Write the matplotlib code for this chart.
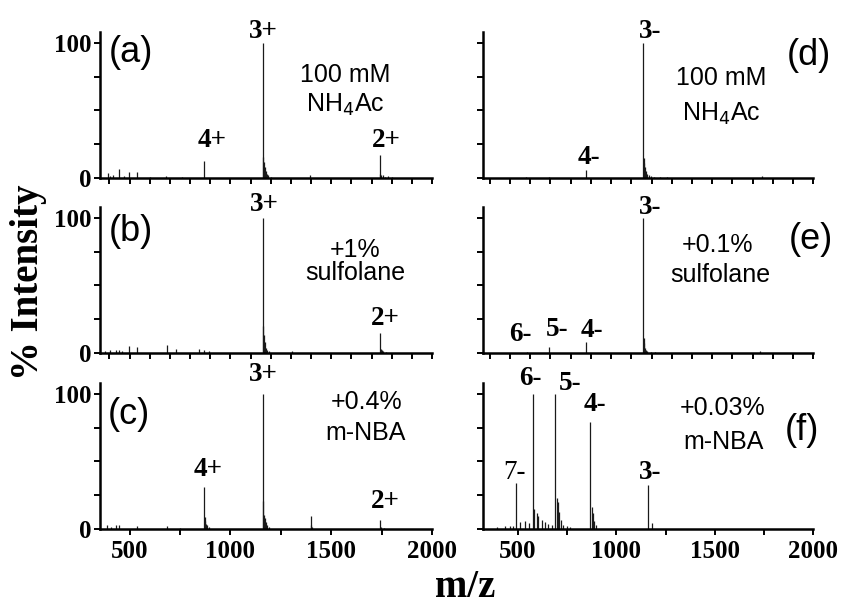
import matplotlib
matplotlib.use("Agg")
import matplotlib.pyplot as plt

SERIF = "Liberation Serif"
SANS = "Liberation Sans"

# ── stick spectra: m/z and % intensity ──────────────────────────────────────
A_MZ = [392, 405, 418, 446, 470, 496, 537, 600, 680, 760, 871, 1161, 1163,
        1166, 1170, 1175, 1180, 1188, 1200, 1395, 1741, 1744, 1748, 1755,
        1765, 1780, 1800]
A_INT = [3.7, 1.5, 2.2, 6.7, 1.5, 4.2, 4.7, 1.0, 1.2, 0.8, 12.8, 100, 15.8,
         12, 8, 5, 3, 2, 1, 2.5, 17, 3, 2.5, 2, 1, 1.2, 1]

B_MZ = [380, 405, 430, 446, 463, 496, 537, 686, 730, 846, 870, 895, 1161,
        1163, 1166, 1170, 1175, 1182, 1192, 1305, 1741, 1745, 1750, 1758, 1770]
B_INT = [1.7, 2, 2, 2, 1.8, 5.2, 4.2, 5.9, 2.7, 2.7, 2.2, 1.3, 100, 20, 13.4,
         8, 4, 2.5, 1.5, 1.7, 14.6, 3, 2.5, 1.5, 1]

C_MZ = [389, 410, 430, 446, 537, 686, 752, 871, 873, 876, 880, 885, 892,
        1161, 1163, 1166, 1170, 1175, 1180, 1190, 1399, 1402, 1406, 1742,
        1746, 1760]
C_INT = [3, 1.5, 3, 3, 2.5, 2, 1, 30.8, 9, 6, 4, 3, 1.5, 100, 21, 10.4, 8, 5,
         3, 1.5, 9.6, 3, 1.5, 6.7, 1.5, 1]

D_MZ = [580, 695, 875, 1160, 1162, 1165, 1168, 1172, 1178, 1185, 1195, 1210,
        1240, 1276, 1746]
D_INT = [0.5, 0.5, 5.6, 100, 14.7, 11, 8, 5, 3, 2, 1.5, 1, 0.6, 0.5, 1.7]

E_MZ = [583, 695, 875, 1160, 1162, 1165, 1169, 1174, 1180, 1195, 1218, 1738]
E_INT = [1.0, 4.4, 8.1, 100, 11, 7.4, 4, 2.5, 1.5, 1, 0.6, 1.5]

F_MZ = [392, 434, 459, 476, 491, 510, 536, 557, 575, 581, 595, 603, 620, 637,
        654, 671, 688, 696, 701, 710, 717, 730, 747, 764, 867, 874, 879, 886,
        896, 1158, 1179]
F_INT = [1.5, 2, 2.5, 2.5, 33.8, 5.4, 6, 4.4, 100, 14.8, 11.8, 9.9, 7, 4.9, 4,
         3.2, 100, 22.7, 20, 12.8, 6.7, 3, 2, 1.5, 79.5, 16, 11.8, 5.7, 3.2,
         32.6, 4.7]

# charge-state labels and where they sit (m/z, % intensity)
A_LAB = ["3+", "4+", "2+"]
A_LAB_XY = [(1165, 108.5), (908, 28), (1775, 28)]
B_LAB = ["3+", "2+"]
B_LAB_XY = [(1168, 109.6), (1767, 25.7)]
C_LAB = ["3+", "4+", "2+"]
C_LAB_XY = [(1165, 114), (890, 43.7), (1767, 20)]
D_LAB = ["3-", "4-"]
D_LAB_XY = [(1193, 108.6), (891, 15.3)]
E_LAB = ["3-", "6-", "5-", "4-"]
E_LAB_XY = [(1193, 108), (550, 13.5), (731, 17.6), (904, 16.5)]
F_LAB = ["7-", "6-", "5-", "4-", "3-"]
F_LAB_XY = [(482, 41.5), (561, 111), (764, 108), (891, 92), (1170, 42)]

# panel letter and solution condition (axes fractions)
LETTERS = ["(a)", "(b)", "(c)", "(d)", "(e)", "(f)"]
LETTER_XY = [(0.093, 0.863), (0.093, 0.831), (0.087, 0.781),
             (0.987, 0.842), (0.992, 0.774), (0.965, 0.678)]
COND = [("100 mM", "NH$_4$Ac"), ("+1%", "sulfolane"), ("+0.4%", "m-NBA"),
        ("100 mM", "NH$_4$Ac"), ("+0.1%", "sulfolane"), ("+0.03%", "m-NBA")]
COND_XY = [((0.738, 0.705), (0.738, 0.50)), ((0.768, 0.705), (0.768, 0.546)),
           ((0.803, 0.872), (0.801, 0.655)), ((0.722, 0.685), (0.722, 0.44)),
           ((0.71, 0.74), (0.717, 0.534)), ((0.726, 0.829), (0.729, 0.596))]

SPECTRA = [(A_MZ, A_INT), (B_MZ, B_INT), (C_MZ, C_INT),
           (D_MZ, D_INT), (E_MZ, E_INT), (F_MZ, F_INT)]
LABELS = [(A_LAB, A_LAB_XY), (B_LAB, B_LAB_XY), (C_LAB, C_LAB_XY),
          (D_LAB, D_LAB_XY), (E_LAB, E_LAB_XY), (F_LAB, F_LAB_XY)]
XMIN = [353, 353, 353, 368, 368, 324]

# ── layout ───────────────────────────────────────────────────────────────────
W, H = 843, 605
fig = plt.figure(figsize=(W / 100, H / 100), dpi=100, facecolor="white")
col_x = [(100, 332), (483.3, 330)]
row_bottom = [178, 353, 529]

for i in range(6):
    col, row = divmod(i, 3)
    x0, w = col_x[col]
    ax = fig.add_axes([x0 / W, 1 - row_bottom[row] / H, w / W, 146 / H])
    mz, inten = SPECTRA[i]
    ax.vlines(mz, 0, inten, color="#1a1a1a", lw=0.9)
    ax.set_xlim(XMIN[i], 2000)
    ax.set_ylim(0, 108)

    for s in ("top", "right"):
        ax.spines[s].set_visible(False)
    for s in ("left", "bottom"):
        ax.spines[s].set_linewidth(1.8)

    ax.set_yticks([0, 25, 50, 75, 100])
    if col == 0:
        ax.set_yticklabels(["0", "", "", "", "100"])
    else:
        ax.set_yticklabels([])

    if row == 2:
        ax.set_xticks([500, 750, 1000, 1250, 1500, 1750, 2000])
        ax.set_xticklabels(["500", "", "1000", "", "1500", "", "2000"])
    else:
        ax.set_xticks(range(400, 2001, 100))
        ax.set_xticklabels([])
    ax.tick_params(direction="out", length=4, width=1.4, pad=2)
    ax.tick_params(axis="x", pad=4)
    for t in ax.get_xticklabels() + ax.get_yticklabels():
        t.set_fontfamily(SERIF)
        t.set_fontweight("bold")
        t.set_fontsize(18)

    for lab, (lx, ly) in zip(*LABELS[i]):
        wt = "normal" if lab == "7-" else "bold"
        ax.text(lx, ly, lab, ha="center", va="center", fontsize=19.5,
                fontfamily=SERIF, fontweight=wt, clip_on=False)

    lx, ly = LETTER_XY[i]
    ax.text(lx, ly, LETTERS[i], transform=ax.transAxes, ha="center",
            va="center", fontsize=26, fontfamily=SANS, clip_on=False)
    for line, (cx, cy) in zip(COND[i], COND_XY[i]):
        ax.text(cx, cy, line, transform=ax.transAxes, ha="center",
                va="center", fontsize=18, fontfamily=SANS)

fig.text(29 / W, 1 - 282 / H, "% Intensity", rotation=90, ha="center",
         va="center", fontsize=28, fontfamily=SERIF, fontweight="bold")
fig.text(465 / W, 1 - 597 / H, "m/z", ha="center", va="baseline",
         fontsize=28, fontfamily=SERIF, fontweight="bold")

fig.savefig("out.png", dpi=100, facecolor="white")
